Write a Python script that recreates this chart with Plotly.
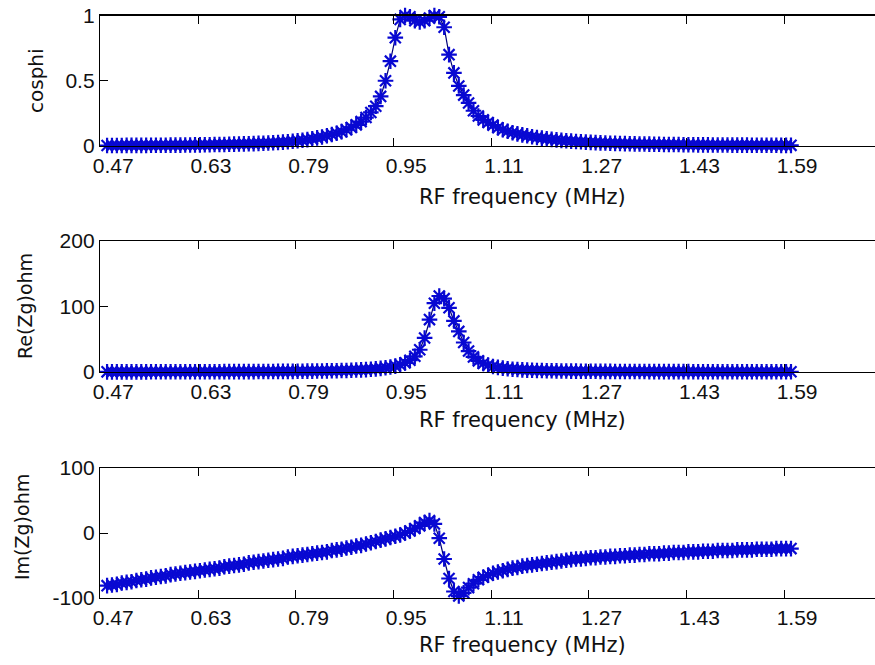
import plotly.graph_objects as go

# ---------------- data ----------------
freq_mhz = [
    0.460, 0.468, 0.476, 0.484, 0.492, 0.500, 0.508, 0.516, 0.524, 0.532,
    0.540, 0.548, 0.556, 0.564, 0.572, 0.580, 0.588, 0.596, 0.604, 0.612,
    0.620, 0.628, 0.636, 0.644, 0.652, 0.660, 0.668, 0.676, 0.684, 0.692,
    0.700, 0.708, 0.716, 0.724, 0.732, 0.740, 0.748, 0.756, 0.764, 0.772,
    0.780, 0.788, 0.796, 0.804, 0.812, 0.820, 0.828, 0.836, 0.844, 0.852,
    0.860, 0.868, 0.876, 0.884, 0.892, 0.900, 0.908, 0.916, 0.924, 0.932,
    0.940, 0.948, 0.956, 0.964, 0.972, 0.980, 0.988, 0.996, 1.004, 1.012,
    1.020, 1.028, 1.036, 1.044, 1.052, 1.060, 1.068, 1.076, 1.084, 1.092,
    1.100, 1.108, 1.116, 1.124, 1.132, 1.140, 1.148, 1.156, 1.164, 1.172,
    1.180, 1.188, 1.196, 1.204, 1.212, 1.220, 1.228, 1.236, 1.244, 1.252,
    1.260, 1.268, 1.276, 1.284, 1.292, 1.300, 1.308, 1.316, 1.324, 1.332,
    1.340, 1.348, 1.356, 1.364, 1.372, 1.380, 1.388, 1.396, 1.404, 1.412,
    1.420, 1.428, 1.436, 1.444, 1.452, 1.460, 1.468, 1.476, 1.484, 1.492,
    1.500, 1.508, 1.516, 1.524, 1.532, 1.540, 1.548, 1.556, 1.564, 1.572,
    1.580,
]

cosphi = [
    0.004, 0.004, 0.004, 0.004, 0.005, 0.005, 0.005, 0.005, 0.005, 0.006,
    0.006, 0.006, 0.006, 0.007, 0.007, 0.007, 0.008, 0.008, 0.009, 0.009,
    0.010, 0.010, 0.011, 0.012, 0.012, 0.013, 0.014, 0.015, 0.016, 0.017,
    0.018, 0.020, 0.021, 0.023, 0.025, 0.027, 0.030, 0.033, 0.036, 0.040,
    0.044, 0.049, 0.055, 0.062, 0.069, 0.078, 0.088, 0.098, 0.110, 0.125,
    0.142, 0.162, 0.187, 0.218, 0.257, 0.305, 0.38, 0.50, 0.65, 0.83,
    0.97, 1.00, 0.99, 0.96, 0.95, 0.96, 0.98, 1.00, 0.99, 0.91,
    0.70, 0.56, 0.46, 0.39, 0.33, 0.27, 0.23, 0.20, 0.18, 0.16,
    0.14, 0.125, 0.113, 0.102, 0.093, 0.085, 0.078, 0.071, 0.065, 0.060,
    0.055, 0.051, 0.047, 0.043, 0.040, 0.037, 0.034, 0.032, 0.030, 0.028,
    0.026, 0.024, 0.023, 0.021, 0.020, 0.019, 0.018, 0.017, 0.016, 0.015,
    0.015, 0.014, 0.013, 0.013, 0.012, 0.012, 0.011, 0.011, 0.010, 0.010,
    0.010, 0.009, 0.009, 0.009, 0.008, 0.008, 0.008, 0.008, 0.007, 0.007,
    0.007, 0.007, 0.006, 0.006, 0.006, 0.006, 0.006, 0.006, 0.005, 0.005,
    0.005,
]

re_zg_ohm = [
    0.2, 0.2, 0.2, 0.2, 0.2, 0.2, 0.2, 0.2, 0.2, 0.3,
    0.3, 0.3, 0.3, 0.3, 0.3, 0.3, 0.3, 0.3, 0.3, 0.4,
    0.4, 0.4, 0.4, 0.4, 0.5, 0.5, 0.5, 0.5, 0.6, 0.6,
    0.6, 0.7, 0.7, 0.8, 0.8, 0.9, 0.9, 1.0, 1.0, 1.1,
    1.2, 1.3, 1.4, 1.5, 1.6, 1.7, 1.9, 2.0, 2.2, 2.4,
    2.7, 3.0, 3.3, 3.7, 4.2, 4.8, 5.6, 6.5, 7.6, 9.0,
    11, 14, 18, 24, 34, 52, 80, 105, 116, 112,
    98, 78, 62, 45, 32, 23, 17, 13, 10.5, 8.5,
    7.0, 5.9, 5.0, 4.3, 3.8, 3.3, 2.9, 2.6, 2.4, 2.2,
    2.0, 1.8, 1.7, 1.6, 1.5, 1.4, 1.3, 1.2, 1.15, 1.1,
    1.05, 1.0, 0.95, 0.9, 0.86, 0.82, 0.78, 0.75, 0.72, 0.69,
    0.66, 0.64, 0.62, 0.6, 0.58, 0.56, 0.54, 0.52, 0.51, 0.5,
    0.48, 0.47, 0.46, 0.45, 0.44, 0.43, 0.42, 0.41, 0.4, 0.39,
    0.38, 0.37, 0.36, 0.36, 0.35, 0.34, 0.34, 0.33, 0.33, 0.32,
    0.32,
]

im_zg_ohm = [
    -81, -80, -79, -77, -76, -75, -73, -72, -71, -69,
    -68, -67, -66, -64, -63, -62, -61, -60, -59, -58,
    -57, -56, -55, -54, -52, -51, -50, -49, -48, -46,
    -45, -44, -43, -42, -41, -40, -39, -37, -36, -35,
    -34, -33, -32, -31, -30, -29, -27, -26, -25, -23,
    -22, -20, -19, -17, -15, -13, -11, -9, -7, -5,
    -3, 0, 3, 7, 11, 16, 19, 14, -8, -40,
    -70, -90, -97, -92, -84, -78, -72, -68, -65, -62,
    -60, -58, -56, -54, -53, -51, -50, -49, -48, -47,
    -46, -45, -44, -43, -42, -41, -40, -40, -39, -38,
    -38, -37, -37, -36, -36, -35, -35, -34, -34, -33,
    -33, -32, -32, -32, -31, -31, -30, -30, -30, -29,
    -29, -29, -28, -28, -28, -27, -27, -27, -27, -26,
    -26, -26, -26, -25, -25, -25, -25, -24, -24, -24,
    -24,
]

x_tick_vals = [0.47, 0.63, 0.79, 0.95, 1.11, 1.27, 1.43, 1.59]
x_tick_text = ["0.47", "0.63", "0.79", "0.95", "1.11", "1.27", "1.43", "1.59"]
x_title = "RF frequency (MHz)"

y_titles = ["cosphi", "Re(Zg)ohm", "Im(Zg)ohm"]
y_ranges = [[0, 1], [0, 200], [-100, 100]]
y_tick_vals = [[0, 0.5, 1], [0, 100, 200], [-100, 0, 100]]
y_tick_text = [["0", "0.5", "1"], ["0", "100", "200"], ["-100", "0", "100"]]

for s in (cosphi, re_zg_ohm, im_zg_ohm):
    assert len(s) == len(freq_mhz), len(s)

# ---------------- layout constants ----------------
W, H = 875, 665
L = 100
X_RANGE = [0.4484, 1.7176]
MARK_VALS = [0.609, 0.769, 0.929, 1.089, 1.249, 1.409, 1.569]
# plot boxes in window pixel rows (top, bottom)
BOXES = [(15.5, 146), (241, 372), (468, 598)]
XTITLE_Y = [197, 420, 645]
YTITLE_POS = [(36, 81), (25, 306), (22, 527)]

def py(p):
    return 1 - p / H

def px(p):
    return (p - L) / (W - L)

series = [cosphi, re_zg_ohm, im_zg_ohm]
tick_font = dict(family="Liberation Sans, Arial, sans-serif", size=21, color="#111")
title_font = dict(family="DejaVu Sans, sans-serif", size=21, color="#111")

fig = go.Figure()
layout = dict(
    width=W, height=H, template="none",
    margin=dict(l=L, r=0, t=0, b=0, pad=0),
    paper_bgcolor="white", plot_bgcolor="white",
    showlegend=False,
    annotations=[],
)

for i, ys in enumerate(series):
    n = i + 1
    xs = "" if n == 1 else str(n)
    lab = str(n + 3)
    fig.add_trace(go.Scatter(
        x=freq_mhz, y=ys, xaxis="x" + xs, yaxis="y" + xs,
        mode="lines+markers", cliponaxis=False,
        line=dict(color="#00007a", width=1.2),
        marker=dict(symbol="asterisk-open", size=13, color="#0808d2",
                    line=dict(color="#0808d2", width=2.2)),
        hoverinfo="skip",
    ))
    # empty trace so the overlaying label axis is drawn
    fig.add_trace(go.Scatter(x=[], y=[], xaxis="x" + lab, yaxis="y" + xs,
                             hoverinfo="skip"))
    top, bot = BOXES[i]
    layout["xaxis" + xs] = dict(
        domain=[0, 1], anchor="y" + xs, range=X_RANGE,
        tickvals=MARK_VALS, ticks="inside", ticklen=8, tickwidth=1,
        tickcolor="#000", mirror="ticks", showline=True, linecolor="#000",
        linewidth=1.2, showticklabels=False, showgrid=False, zeroline=False,
        automargin=False,
    )
    layout["xaxis" + lab] = dict(
        overlaying="x" + xs, anchor="y" + xs, side="bottom", range=X_RANGE,
        tickvals=x_tick_vals, ticktext=x_tick_text, ticks="",
        ticklabelstandoff=5, ticklabeloverflow="allow",
        showline=False, showgrid=False, zeroline=False, tickfont=tick_font,
        automargin=False,
    )
    layout["yaxis" + xs] = dict(
        domain=[py(bot), py(top)], anchor="x" + xs, range=y_ranges[i],
        tickvals=y_tick_vals[i], ticktext=y_tick_text[i],
        ticks="inside", ticklen=8, tickwidth=1, tickcolor="#000",
        showline=True, linecolor="#000", linewidth=1.2, mirror=False,
        showgrid=False, zeroline=False, tickfont=tick_font, automargin=False,
        ticklabeloverflow="allow",
    )
    layout["annotations"].append(dict(
        text=x_title, xref="paper", yref="paper",
        x=px(522), y=py(XTITLE_Y[i]), xanchor="center", yanchor="middle",
        showarrow=False, font=title_font,
    ))
    tx, ty = YTITLE_POS[i]
    layout["annotations"].append(dict(
        text=y_titles[i], xref="paper", yref="paper", textangle=-90,
        x=px(tx), y=py(ty), xanchor="center", yanchor="middle",
        showarrow=False,
        font=dict(family="DejaVu Sans, sans-serif", size=20 if i == 0 else 19, color="#111"),
    ))

fig.update_layout(**layout)
fig.write_html(
    "out.html",
    config={"displayModeBar": False, "staticPlot": True},
    post_script="document.body.style.margin='0px';document.body.style.overflow='hidden';",
)
